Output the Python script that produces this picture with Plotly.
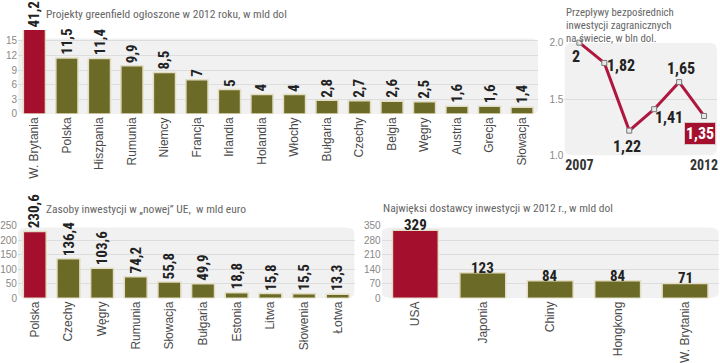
import plotly.graph_objects as go

W, H = 720, 363

# ---------------- data ----------------
gf_countries = ["W. Brytania", "Polska", "Hiszpania", "Rumunia", "Niemcy", "Francja", "Irlandia",
                "Holandia", "Włochy", "Bułgaria", "Czechy", "Belgia", "Węgry", "Austria", "Grecja", "Słowacja"]
gf_values = [41.2, 11.5, 11.4, 9.9, 8.5, 7, 5, 4, 4, 2.8, 2.7, 2.6, 2.5, 1.6, 1.6, 1.4]
gf_labels = ["41,2", "11,5", "11,4", "9,9", "8,5", "7", "5", "4", "4", "2,8", "2,7", "2,6", "2,5", "1,6", "1,6", "1,4"]
gf_ticks = [0, 3, 6, 9, 12, 15]

fdi_years = [2007, 2008, 2009, 2010, 2011, 2012]
fdi_values = [2.0, 1.82, 1.22, 1.41, 1.65, 1.35]
fdi_labels = ["2", "1,82", "1,22", "1,41", "1,65", "1,35"]

ue_countries = ["Polska", "Czechy", "Węgry", "Rumunia", "Słowacja", "Bułgaria", "Estonia", "Litwa", "Słowenia", "Łotwa"]
ue_values = [230.6, 136.4, 103.6, 74.2, 55.8, 49.9, 18.8, 15.8, 15.5, 13.3]
ue_labels = ["230,6", "136,4", "103,6", "74,2", "55,8", "49,9", "18,8", "15,8", "15,5", "13,3"]
ue_ticks = [0, 50, 100, 150, 200, 250]

inv_countries = ["USA", "Japonia", "Chiny", "Hongkong", "W. Brytania"]
inv_values = [329, 123, 84, 84, 71]
inv_labels = ["329", "123", "84", "84", "71"]
inv_ticks = [0, 70, 140, 210, 280, 350]

title_gf = "Projekty greenfield ogłoszone w 2012 roku, w mld dol"
title_fdi_lines = ["Przepływy bezpośrednich", "inwestycji zagranicznych", "na świecie, w bln dol."]
title_ue = "Zasoby inwestycji w „nowej” UE,  w mld euro"
title_inv = "Najwięksi dostawcy inwestycji w 2012 r., w mld dol"

# ---------------- style ----------------
RED = "#a50f2e"
OLIVE = "#6b6a27"
EDGE = "#e2ddc3"
BG = "#f1f1f1"
GRID = "#dddddd"
LINE = "#b0173f"
NARROW = "Liberation Sans Narrow, Roboto Condensed, Arial Narrow, sans-serif"
SANS = "Liberation Sans, Arial, sans-serif"


def px(x):
    return x / W


def py(y):
    return 1 - y / H


fig = go.Figure()


def bar_colors(n):
    return [RED] + [OLIVE] * (n - 1)


gf_max = 17.2
fig.add_trace(go.Bar(x=gf_countries, y=gf_values, xaxis="x", yaxis="y",
                     marker=dict(color=bar_colors(len(gf_values)), line=dict(color=EDGE, width=1.5)),
                     hoverinfo="skip", showlegend=False))
fig.add_trace(go.Bar(x=ue_countries, y=ue_values, xaxis="x3", yaxis="y3",
                     marker=dict(color=bar_colors(len(ue_values)), line=dict(color=EDGE, width=1.5)),
                     hoverinfo="skip", showlegend=False))
fig.add_trace(go.Bar(x=inv_countries, y=inv_values, xaxis="x4", yaxis="y4",
                     marker=dict(color=bar_colors(len(inv_values)), line=dict(color=EDGE, width=1.5)),
                     hoverinfo="skip", showlegend=False))
fig.add_trace(go.Scatter(x=fdi_years, y=fdi_values, xaxis="x2", yaxis="y2", mode="lines+markers",
                         line=dict(color=LINE, width=3),
                         marker=dict(symbol="square", size=5, color="#e8e8e8", line=dict(color="#777", width=1)),
                         cliponaxis=False, hoverinfo="skip", showlegend=False))

cat_font = dict(family=SANS, size=12, color="#4a4a4a")
tick_font = dict(family=SANS, size=10, color="#888")

common_x = dict(showgrid=False, zeroline=False, showline=False, ticks="", fixedrange=True)
common_y = dict(showgrid=True, gridcolor=GRID, gridwidth=1, zeroline=False, showline=False,
                ticks="", tickfont=tick_font, fixedrange=True)

fig.update_layout(
    width=W, height=H, margin=dict(l=0, r=0, t=0, b=0),
    paper_bgcolor="white", plot_bgcolor="rgba(0,0,0,0)",
    bargap=0.32,
    xaxis=dict(domain=[px(17.2), px(538.8)], anchor="y", tickangle=-90, tickfont=cat_font,
               range=[-0.5, len(gf_values) - 0.5], **common_x),
    yaxis=dict(domain=[py(112), py(25)], anchor="x", range=[0, gf_max], tickvals=gf_ticks,
               **common_y),
    xaxis2=dict(domain=[px(565), px(718)], anchor="y2", range=[2006.4, 2012.52],
                tickvals=[2007, 2012], ticktext=["<b>2007</b>", "<b>2012</b>"],
                tickfont=dict(family=NARROW, size=14, color="#333"), **common_x),
    yaxis2=dict(domain=[py(155), py(38)], anchor="x2", range=[1.0, 2.0], tickvals=[1.0, 1.5, 2.0],
                ticktext=["1.0", "1.5", "2.0"], **common_y),
    xaxis3=dict(domain=[px(17), px(354.5)], anchor="y3", tickangle=-90, tickfont=cat_font,
                range=[-0.5, len(ue_values) - 0.5], **common_x),
    yaxis3=dict(domain=[py(303), py(228)], anchor="x3", range=[0, 250], tickvals=ue_ticks, **common_y),
    xaxis4=dict(domain=[px(381.7), px(719.8)], anchor="y4", tickangle=-90, tickfont=cat_font,
                range=[-0.5, len(inv_values) - 0.5], **common_x),
    yaxis4=dict(domain=[py(303), py(228)], anchor="x4", range=[0, 350], tickvals=inv_ticks, **common_y),
)


def rounded_rect(x0, x1, y0, y1, rx, ry):
    return (f"M {x0+rx} {y0} L {x1-rx} {y0} Q {x1} {y0} {x1} {y0+ry} "
            f"L {x1} {y1-ry} Q {x1} {y1} {x1-rx} {y1} L {x0+rx} {y1} "
            f"Q {x0} {y1} {x0} {y1-ry} L {x0} {y0+ry} Q {x0} {y0} {x0+rx} {y0} Z")


shapes = []
shapes.append(dict(type="path", xref="x", yref="y", layer="below", fillcolor=BG, line=dict(width=0),
                   path=rounded_rect(-0.5, len(gf_values) - 0.5, 0, 15.5, 0.3, 1.2)))
shapes.append(dict(type="path", xref="x2", yref="y2", layer="below", fillcolor=BG, line=dict(width=0),
                   path=rounded_rect(2006.4, 2012.52, 1.0, 2.0, 0.3, 0.07)))
shapes.append(dict(type="path", xref="x3", yref="y3", layer="below", fillcolor=BG, line=dict(width=0),
                   path=rounded_rect(-0.5, len(ue_values) - 0.5, 0, 244, 0.35, 18)))
shapes.append(dict(type="path", xref="x4", yref="y4", layer="below", fillcolor=BG, line=dict(width=0),
                   path=rounded_rect(-0.5, len(inv_values) - 0.5, 0, 342, 0.18, 25)))
fig.update_layout(shapes=shapes)

ann = []
val_font = dict(family=NARROW, size=15, color="#222")

for c, v, t in zip(gf_countries, gf_values, gf_labels):
    ann.append(dict(x=c, y=min(v, gf_max), xref="x", yref="y", text=f"<b>{t}</b>", textangle=-90,
                    showarrow=False, xanchor="center", yanchor="bottom", yshift=1, font=val_font))
for c, v, t in zip(ue_countries, ue_values, ue_labels):
    ann.append(dict(x=c, y=v, xref="x3", yref="y3", text=f"<b>{t}</b>", textangle=-90,
                    showarrow=False, xanchor="center", yanchor="bottom", yshift=1, font=val_font))
for c, v, t in zip(inv_countries, inv_values, inv_labels):
    ann.append(dict(x=c, y=v, xref="x4", yref="y4", text=f"<b>{t}</b>",
                    showarrow=False, xanchor="center", yanchor="bottom", yshift=-5, borderpad=0,
                    font=dict(family=NARROW, size=15, color="#222")))

# label offsets (pixels) for the line chart
offs = [(-3, -14), (17, -3), (-2, -16), (15, -8), (2, 14), (-4.5, -17.5)]
for (yr, v, t), (dx, dy) in zip(zip(fdi_years, fdi_values, fdi_labels), offs):
    last = yr == fdi_years[-1]
    ann.append(dict(x=yr, y=v, xref="x2", yref="y2", text=f"<b>{t}</b>", showarrow=False,
                    xanchor="center", yanchor="middle", xshift=dx, yshift=dy,
                    font=dict(family=NARROW, size=16, color="white" if last else "#222"),
                    bgcolor=RED if last else None, borderpad=1 if last else 0,
                    bordercolor="#d9c7c7" if last else None, borderwidth=1 if last else 0))

title_font = dict(family=NARROW, size=11.5, color="#666")
ann.append(dict(x=px(44), y=py(8), xref="paper", yref="paper", text=title_gf, showarrow=False,
                xanchor="left", yanchor="middle", borderpad=0, font=title_font))
for i, line in enumerate(title_fdi_lines):
    ann.append(dict(x=px(566), y=py(6.5 + 13.5 * i), xref="paper", yref="paper", text=line,
                    showarrow=False, xanchor="left", yanchor="middle", borderpad=0,
                    font=dict(family=NARROW, size=10.8, color="#666")))
ann.append(dict(x=px(44), y=py(210.5), xref="paper", yref="paper", text=title_ue, showarrow=False,
                xanchor="left", yanchor="middle", borderpad=0, font=title_font))
ann.append(dict(x=px(382), y=py(210), xref="paper", yref="paper", text=title_inv, showarrow=False,
                xanchor="left", yanchor="middle", borderpad=0, font=title_font))

fig.update_layout(annotations=ann)
fig.write_html("out.html", config={"displayModeBar": False},
               post_script="document.body.style.margin='0';document.body.style.overflow='hidden';")
